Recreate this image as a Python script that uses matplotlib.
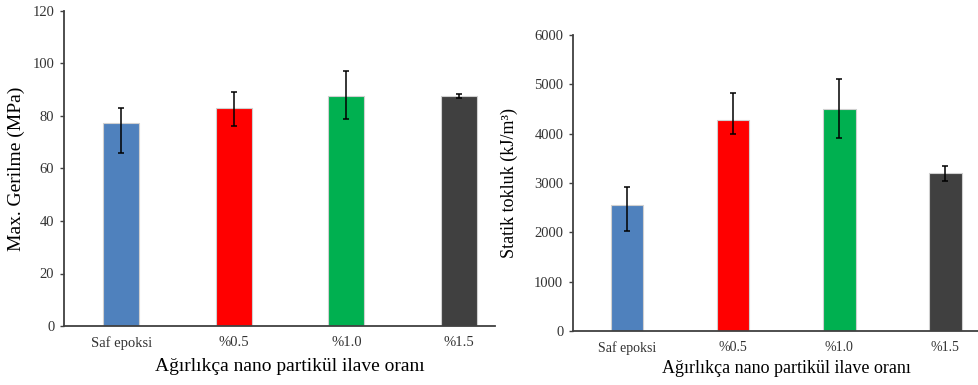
import numpy as np
import matplotlib
matplotlib.use('Agg')
import matplotlib.pyplot as plt

plt.rcParams['font.family'] = ['Liberation Serif', 'DejaVu Serif']

# veri
categories = ['Saf epoksi', '%0.5', '%1.0', '%1.5']
colors = ['#4F81BD', '#FF0000', '#00B050', '#404040']

gerilme = [77.3, 83.0, 87.7, 87.5]
gerilme_alt = [66.0, 76.0, 79.0, 86.8]
gerilme_ust = [83.2, 89.0, 97.0, 88.5]

tokluk = [2550, 4270, 4500, 3200]
tokluk_alt = [2030, 3990, 3920, 3040]
tokluk_ust = [2920, 4830, 5100, 3340]

fig = plt.figure(figsize=(9.79, 3.85), dpi=100)
W, H = 979, 385


def draw(rect, vals, lo, hi, ylim, yticks, ylabel, width, fs_tick, fs_lab, xlab_y):
	x0, y0, x1, y1 = rect
	ax = fig.add_axes([x0 / W, 1 - y1 / H, (x1 - x0) / W, (y1 - y0) / H])
	x = np.arange(len(categories))
	yerr = [np.array(vals) - np.array(lo), np.array(hi) - np.array(vals)]
	ax.bar(x, vals, width=width, color=colors, edgecolor='#D0D0D0', linewidth=0.8, zorder=2)
	ax.errorbar(x, vals, yerr=yerr, fmt='none', ecolor='black', elinewidth=1.1,
				capsize=2, capthick=1.1, zorder=3)
	ax.set_xlim(-0.51, 3.32)
	ax.set_ylim(*ylim)
	ax.set_yticks(yticks)
	ax.set_xticks(x)
	ax.set_xticklabels(categories, fontsize=fs_tick, color='#333333')
	ax.tick_params(axis='x', length=0, pad=7)
	ax.tick_params(axis='y', length=3, width=1, color='#404040', labelsize=10.5,
				   labelcolor='#333333', pad=4)
	for s in ['top', 'right']:
		ax.spines[s].set_visible(False)
	for s in ['left', 'bottom']:
		ax.spines[s].set_color('#404040')
		ax.spines[s].set_linewidth(1.3)
	ax.set_ylabel(ylabel, fontsize=fs_lab)
	ax.set_xlabel('Ağırlıkça nano partikül ilave oranı', fontsize=fs_lab)
	ax.xaxis.set_label_coords(0.525, xlab_y)
	return ax


ax1 = draw((64, 11, 495, 326), gerilme, gerilme_alt, gerilme_ust, (0, 120),
		   np.arange(0, 121, 20), 'Max. Gerilme (MPa)', 0.32, 10.5, 14, -0.103)
ax1.yaxis.set_label_coords(-0.09, 0.5)

ax2 = draw((573, 35, 979, 331), tokluk, tokluk_alt, tokluk_ust, (0, 6000),
		   np.arange(0, 6001, 1000), 'Statik tokluk (kJ/m³)', 0.31, 10, 13, -0.098)
ax2.yaxis.set_label_coords(-0.135, 0.5)

fig.savefig('out.png', dpi=100)
